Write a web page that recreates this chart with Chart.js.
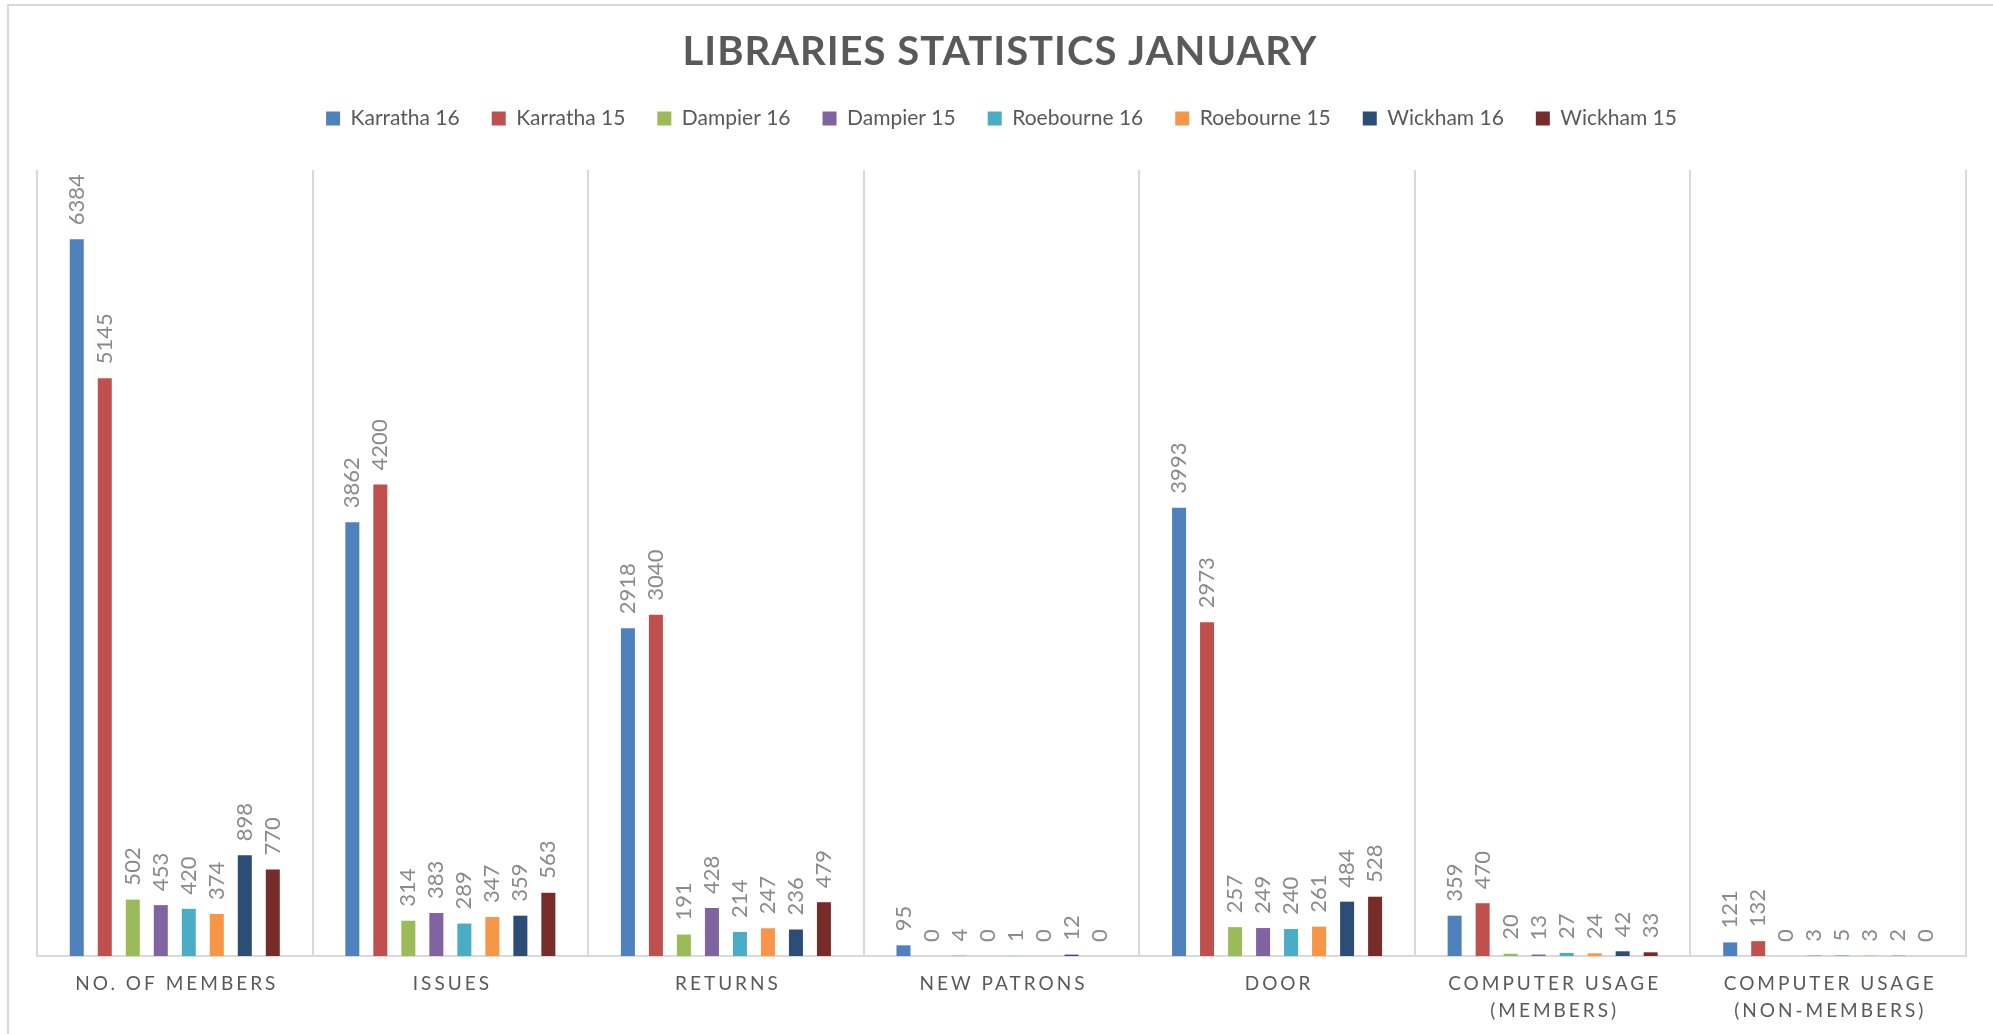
<!DOCTYPE html>
<html>
<head>
<meta charset="utf-8">
<script src="https://cdn.jsdelivr.net/npm/chart.js@4.4.1/dist/chart.umd.min.js"></script>
<style>
  html, body { margin: 0; padding: 0; background: #fff; }
  #wrap { position: relative; width: 1993px; height: 1034px; }
  #frame { position: absolute; left: 7px; top: 4px; width: 2000px; height: 1100px; border: 2px solid #d9d9d9; box-sizing: border-box; pointer-events: none; }
</style>
</head>
<body>
<div id="wrap">
  <canvas id="libChart" width="1993" height="1034"></canvas>
  <div id="frame"></div>
</div>
<script>
const categories = [
    'NO. OF MEMBERS', 'ISSUES', 'RETURNS', 'NEW PATRONS', 'DOOR',
    ['COMPUTER USAGE', '(MEMBERS)'], ['COMPUTER USAGE', '(NON-MEMBERS)']
];

const karratha16 = [6384, 3862, 2918, 95, 3993, 359, 121];
const karratha15 = [5145, 4200, 3040, 0, 2973, 470, 132];
const dampier16 = [502, 314, 191, 4, 257, 20, 0];
const dampier15 = [453, 383, 428, 0, 249, 13, 3];
const roebourne16 = [420, 289, 214, 1, 240, 27, 5];
const roebourne15 = [374, 347, 247, 0, 261, 24, 3];
const wickham16 = [898, 359, 236, 12, 484, 42, 2];
const wickham15 = [770, 563, 479, 0, 528, 33, 0];

const seriesNames = ['Karratha 16', 'Karratha 15', 'Dampier 16', 'Dampier 15',
    'Roebourne 16', 'Roebourne 15', 'Wickham 16', 'Wickham 15'];
const seriesValues = [karratha16, karratha15, dampier16, dampier15,
    roebourne16, roebourne15, wickham16, wickham15];
const seriesColors = ['#4F81BD', '#C0504D', '#9BBB59', '#8064A2',
    '#4BACC6', '#F79646', '#2C4D75', '#772C2A'];

const chartTitle = 'LIBRARIES STATISTICS JANUARY';

// title, rotated value labels and spaced category labels
const textPlugin = {
    id: 'textPlugin',
    afterDraw(chart) {
        const ctx = chart.ctx;
        ctx.save();
        ctx.fillStyle = '#595959';
        ctx.font = 'bold 40px Lato';
        ctx.letterSpacing = '1px';
        ctx.textAlign = 'center';
        ctx.textBaseline = 'middle';
        ctx.fillText(chartTitle, 1000, 52);

        ctx.font = '19px Lato';
        ctx.letterSpacing = '3px';
        const xScale = chart.scales.x;
        categories.forEach((lab, i) => {
            const x = xScale.getPixelForValue(i) + 2;
            const lines = Array.isArray(lab) ? lab : [lab];
            lines.forEach((line, j) => {
                ctx.fillText(line, x, 984 + j * 27);
            });
        });
        ctx.restore();
    },
    afterDatasetsDraw(chart) {
        const ctx = chart.ctx;
        ctx.save();
        ctx.fillStyle = '#8a8a8a';
        ctx.font = '22px Lato';
        ctx.textAlign = 'left';
        ctx.textBaseline = 'middle';
        chart.data.datasets.forEach((ds, di) => {
            chart.getDatasetMeta(di).data.forEach((bar, i) => {
                ctx.save();
                ctx.translate(bar.x, bar.y - 14);
                ctx.rotate(-Math.PI / 2);
                ctx.fillText(String(ds.data[i]), 0, 0);
                ctx.restore();
            });
        });
        ctx.restore();
    }
};

new Chart(document.getElementById('libChart'), {
    type: 'bar',
    data: {
        labels: categories,
        datasets: seriesNames.map((name, i) => ({
            label: name,
            data: seriesValues[i],
            backgroundColor: seriesColors[i],
            borderWidth: 0,
            categoryPercentage: 0.813,
            barPercentage: 0.5
        }))
    },
    options: {
        responsive: false,
        animation: false,
        layout: { padding: { top: 76, left: 37, right: 27, bottom: 78 } },
        plugins: {
            title: { display: false },
            tooltip: { enabled: false },
            legend: {
                position: 'top',
                labels: {
                    boxWidth: 14,
                    boxHeight: 14,
                    padding: 32,
                    color: '#595959',
                    font: { family: 'Lato', size: 21 }
                }
            }
        },
        scales: {
            x: {
                offset: true,
                ticks: { display: false },
                grid: { display: true, offset: true, color: '#d9d9d9', lineWidth: 2, drawTicks: false },
                border: { color: '#d9d9d9', width: 2 }
            },
            xTop: {
                type: 'category',
                position: 'top',
                labels: categories,
                ticks: { display: false },
                grid: { display: false },
                border: { display: false },
                afterFit(scale) { scale.height = 31; }
            },
            y: {
                display: false,
                min: 0,
                max: 7000
            }
        }
    },
    plugins: [textPlugin]
});
</script>
</body>
</html>
